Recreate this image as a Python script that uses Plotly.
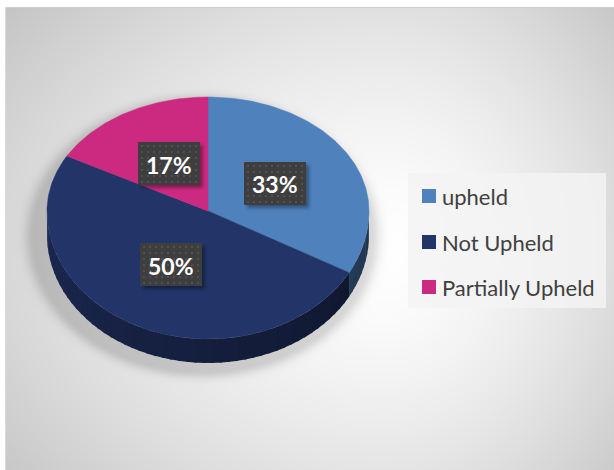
import base64
import struct
import zlib

import numpy as np
import plotly.graph_objects as go

# ---- data ----
categories = ["upheld", "Not Upheld", "Partially Upheld"]
shares = [33, 50, 17]
colors = ["#4F81BD", "#233469", "#CC2A80"]

# ---- canvas / pie geometry (pixel coordinates, y grows downward) ----
W, H = 614, 470
CX, CY = 208, 211          # apex of the pie
RX, RY_UP, RY_DN = 161, 114, 128   # tilted (perspective) ellipse
DEPTH = 24                 # thickness of the pie wall
BOX_W, BOX_H = 62, 43      # percentage label boxes


def rim(theta_deg):
    """Point on the top ellipse for an angle measured clockwise from 12 o'clock."""
    t = np.radians(np.asarray(theta_deg, dtype=float))
    c = np.cos(t)
    x = CX + RX * np.sin(t)
    y = CY - np.where(c > 0, RY_UP, RY_DN) * c
    return x, y


def hex_rgb(h):
    h = h.lstrip("#")
    return tuple(int(h[i:i + 2], 16) for i in (0, 2, 4))


def shade(h, f):
    r, g, b = hex_rgb(h)
    return "rgb(%d,%d,%d)" % (round(r * f), round(g * f), round(b * f))


def png_data_uri(arr):
    """Encode an HxWx3 (RGB) or HxWx4 (RGBA) uint8 array as a PNG data URI."""
    h, w, ch = arr.shape
    ctype = 2 if ch == 3 else 6
    raw = b"".join(b"\x00" + arr[i].tobytes() for i in range(h))

    def chunk(tag, data):
        return (struct.pack(">I", len(data)) + tag + data
                + struct.pack(">I", zlib.crc32(tag + data) & 0xFFFFFFFF))

    png = (b"\x89PNG\r\n\x1a\n"
           + chunk(b"IHDR", struct.pack(">IIBBBBB", w, h, 8, ctype, 0, 0, 0))
           + chunk(b"IDAT", zlib.compress(raw, 9))
           + chunk(b"IEND", b""))
    return "data:image/png;base64," + base64.b64encode(png).decode()


def box_blur(a, r):
    k = np.ones(2 * r + 1) / (2 * r + 1)
    a = np.apply_along_axis(lambda m: np.convolve(m, k, mode="same"), 0, a)
    return np.apply_along_axis(lambda m: np.convolve(m, k, mode="same"), 1, a)


# ---- background: radial grey gradient with a soft drop shadow under the pie ----
yy, xx = np.mgrid[0:H, 0:W].astype(float)
GX, GY = 385, 250
rx_bg = np.where(xx < GX, 400.0, 260.0)
d = np.sqrt(((xx - GX) / rx_bg) ** 2 + ((yy - GY) / 300) ** 2)
g = 255 - 42 * d ** 1.5
ds = np.sqrt(((xx - 202) / 168) ** 2 + ((yy - 236) / 134) ** 2)
dist_px = np.clip((ds - 1) * 150, 0, None)
g -= 36 * np.exp(-(dist_px / 9) ** 2)
g = np.clip(g, 0, 255)
g[:7, :] = 255
g[:, :5] = 255
g[7, 5:] = 205
g[7:, 5] = 218
bg = np.repeat(g.astype(np.uint8)[:, :, None], 3, axis=2)

# ---- label box texture: dark fill with a dotted grid and a soft shadow ----
PAD_L, PAD_T, PAD_R, PAD_B = 2, 2, 7, 7
IW, IH = BOX_W + PAD_L + PAD_R, BOX_H + PAD_T + PAD_B
sh = np.zeros((IH, IW))
sh[PAD_T + 3:PAD_T + 3 + BOX_H, PAD_L + 3:PAD_L + 3 + BOX_W] = 1.0
sh = box_blur(box_blur(sh, 2), 1) * 0.35
tile = np.zeros((IH, IW, 4), dtype=np.uint8)
tile[..., 3] = (sh * 255).astype(np.uint8)
tile[PAD_T:PAD_T + BOX_H, PAD_L:PAD_L + BOX_W, :3] = 62
tile[PAD_T:PAD_T + BOX_H, PAD_L:PAD_L + BOX_W, 3] = 255
for yy_d in range(PAD_T + 3, PAD_T + BOX_H - 1, 6):
    for xx_d in range(PAD_L + 3, PAD_L + BOX_W - 1, 6):
        tile[yy_d:yy_d + 2, xx_d:xx_d + 2, :3] = 80
box_uri = png_data_uri(tile)

fig = go.Figure()

total = float(sum(shares))
bounds = np.concatenate([[0.0], np.cumsum(shares) / total * 360.0])

# ---- pie wall (front half only), shaded from left to right ----
for i, col in enumerate(colors):
    a0, a1 = max(bounds[i], 90.0), min(bounds[i + 1], 270.0)
    if a1 <= a0:
        continue
    n = max(2, int(np.ceil((a1 - a0) / 3.0)))
    edges = np.linspace(a0, a1, n + 1)
    for s in range(n):
        t = np.linspace(edges[s], min(edges[s + 1] + 0.8, a1), 6)
        x, y = rim(t)
        px = np.concatenate([x, x[::-1]])
        py = np.concatenate([y, (y + DEPTH)[::-1]])
        tm = 0.5 * (edges[s] + edges[s + 1])
        f = 0.40 + 0.36 * (tm - 90.0) / 180.0
        fig.add_trace(go.Scatter(
            x=px, y=py, mode="lines", fill="toself", fillcolor=shade(col, f),
            line=dict(width=0), hoverinfo="skip", showlegend=False))

# ---- pie top faces ----
for i, (cat, col) in enumerate(zip(categories, colors)):
    t = np.linspace(bounds[i], bounds[i + 1], max(8, int(shares[i] * 4)))
    x, y = rim(t)
    px = np.concatenate([[CX], x, [CX]])
    py = np.concatenate([[CY], y, [CY]])
    fig.add_trace(go.Scatter(
        x=px, y=py, mode="lines", fill="toself", fillcolor=col,
        line=dict(color=col, width=0.5), name=cat,
        hoverinfo="text", text="%s: %d%%" % (cat, shares[i]), showlegend=False))

# ---- percentage labels in dark boxes ----
annotations = []
images = [dict(source=png_data_uri(bg), xref="paper", yref="paper",
               x=0, y=1, sizex=1, sizey=1, sizing="stretch",
               xanchor="left", yanchor="top", layer="below")]
for i, cat in enumerate(categories):
    mid = 0.5 * (bounds[i] + bounds[i + 1])
    t = np.radians(mid)
    c = np.cos(t)
    lx = CX + 0.48 * RX * np.sin(t)
    ly = CY - 0.48 * (RY_UP if c > 0 else RY_DN) * c
    pct = "%d%%" % round(shares[i] / total * 100)
    images.append(dict(
        source=box_uri, xref="x", yref="y",
        x=round(lx - BOX_W / 2 - PAD_L), y=round(ly - BOX_H / 2 - PAD_T),
        sizex=IW, sizey=IH, sizing="stretch",
        xanchor="left", yanchor="top", layer="above"))
    annotations.append(dict(
        x=lx, y=ly + 1, xref="x", yref="y", text="<b>%s</b>" % pct,
        showarrow=False, xanchor="center", yanchor="middle",
        font=dict(family="Lato", size=23, color="white")))

# ---- legend ----
shapes = [dict(type="rect", xref="x", yref="y", x0=408, x1=606, y0=173, y1=308,
               fillcolor="rgba(243,243,243,0.85)", line=dict(width=0), layer="above")]
row_y = [196, 242, 287]
for cat, col, ry in zip(categories, colors, row_y):
    shapes.append(dict(type="rect", xref="x", yref="y", x0=422, x1=436,
                       y0=ry - 7, y1=ry + 7, fillcolor=col, line=dict(width=0),
                       layer="above"))
    annotations.append(dict(
        x=440, y=ry, xref="x", yref="y", text=cat, showarrow=False,
        xanchor="left", yanchor="middle",
        font=dict(family="Lato", size=22, color="#404040")))

fig.update_layout(
    width=W, height=H,
    margin=dict(l=0, r=0, t=0, b=0),
    paper_bgcolor="white", plot_bgcolor="rgba(0,0,0,0)",
    xaxis=dict(range=[0, W], visible=False, fixedrange=True),
    yaxis=dict(range=[H, 0], visible=False, fixedrange=True),
    showlegend=False,
    shapes=shapes,
    annotations=annotations,
    images=images,
)

fig.write_html("out.html", config={"displayModeBar": False})
